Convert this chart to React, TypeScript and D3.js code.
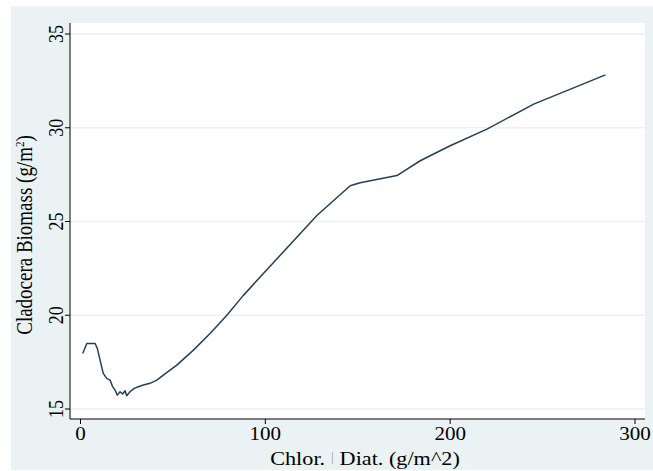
import React from "react";
import * as d3 from "d3";

// values
const chlorDiat = [1.2, 3.4, 7.9, 9.1, 10.6, 12.3, 14.2, 16.0, 17.4, 18.7, 19.9, 21.4, 22.8, 24.1, 25.0, 26.8, 29.0, 31.3, 34.0, 37.6, 41.3, 44.8, 52.1, 61.1, 70.1, 79.2, 88.1, 97.2, 127.9, 145.9, 151.3, 171.2, 183.8, 200, 219.9, 245.2, 284.0];
const biomass = [17.96, 18.49, 18.49, 18.23, 17.61, 16.9, 16.63, 16.54, 16.19, 16.01, 15.74, 15.92, 15.8, 15.97, 15.71, 15.92, 16.1, 16.19, 16.28, 16.37, 16.54, 16.81, 17.34, 18.14, 19.03, 20.0, 21.06, 22.04, 25.32, 26.91, 27.07, 27.45, 28.24, 29.04, 29.93, 31.26, 32.82];

const xTicks = [0, 100, 200, 300];
const yTicks = [15, 20, 25, 30, 35];

const W = 653;
const H = 471;
// the reference looks stretched sideways a bit
const SX = 1.17;

export default function App() {
  const x = d3.scaleLinear().domain([0, 300]).range([80.5, 635]);
  const y = d3.scaleLinear().domain([15, 35]).range([409, 34]);

  const pts: [number, number][] = chlorDiat.map((d, i) => [d, biomass[i]]);
  const line = d3
    .line<[number, number]>()
    .x((d) => x(d[0]))
    .y((d) => y(d[1]));

  const font = "'Liberation Serif', 'Times New Roman', serif";

  return (
    <div style={{ position: "absolute", left: 0, top: 0 }}>
      <svg width={W} height={H} style={{ display: "block" }}>
        <rect x={0} y={0} width={W} height={H} fill="#ffffff" />
        <rect x={11} y={6} width={W - 11} height={464} fill="#eaf2f3" />
        {/* plot region */}
        <rect x={70} y={23} width={575} height={396} fill="#ffffff" />

        {/* grid */}
        {yTicks.map((t) => (
          <line key={"g" + t} x1={70} x2={645} y1={y(t)} y2={y(t)} stroke="#eaf2f3" strokeWidth={1.5} />
        ))}

        {/* axes */}
        <line x1={70} x2={70} y1={23} y2={419} stroke="#000" strokeWidth={1} />
        <line x1={70} x2={645} y1={419} y2={419} stroke="#000" strokeWidth={1} />

        {yTicks.map((t) => (
          <g key={"y" + t}>
            <line x1={65} x2={70} y1={y(t)} y2={y(t)} stroke="#000" />
            <text
              transform={`translate(63,${y(t)}) scale(${SX},1) rotate(-90)`}
              textAnchor="middle"
              fontFamily={font}
              fontSize={18}
              fill="#000"
            >
              {t}
            </text>
          </g>
        ))}

        {xTicks.map((t) => (
          <g key={"x" + t}>
            <line x1={x(t)} x2={x(t)} y1={419} y2={424} stroke="#000" />
            <text
              transform={`translate(${x(t)},440) scale(${SX},1)`}
              textAnchor="middle"
              fontFamily={font}
              fontSize={18}
              fill="#000"
            >
              {t}
            </text>
          </g>
        ))}

        <text
          transform={`translate(365,465) scale(${SX},1)`}
          textAnchor="middle"
          fontFamily={font}
          fontSize={19}
          fill="#000"
        >
          Chlor.
          <tspan dx={5} dy={-4} fill="#9a9a9a" fontSize={12}>|</tspan>
          <tspan dx={5} dy={4}>Diat. (g/m^2)</tspan>
        </text>

        <text
          transform={`translate(32,235) scale(${SX},1) rotate(-90)`}
          textAnchor="middle"
          fontFamily={font}
          fontSize={19}
          fill="#000"
        >
          Cladocera Biomass (g/m<tspan dy={-7} fontSize={11}>2</tspan>
          <tspan dy={7}>)</tspan>
        </text>

        <path d={line(pts) ?? ""} fill="none" stroke="#243f5a" strokeWidth={1.5} strokeLinejoin="round" />
      </svg>
    </div>
  );
}
